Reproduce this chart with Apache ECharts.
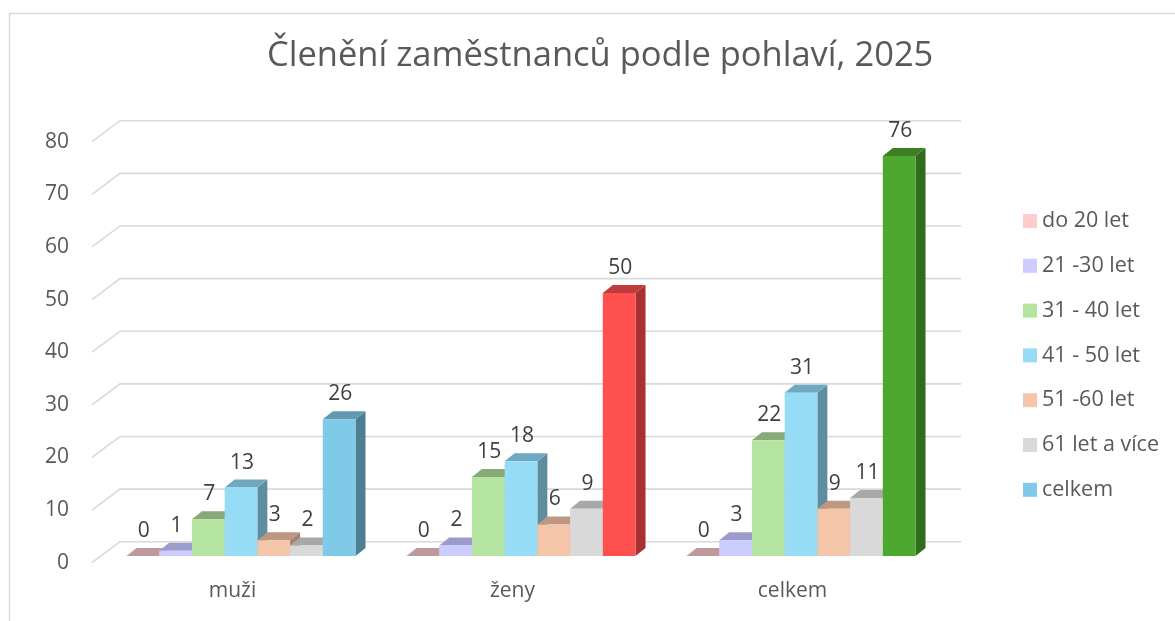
<!DOCTYPE html>
<html>
<head>
<meta charset="utf-8">
<script src="https://cdn.jsdelivr.net/npm/echarts@6/dist/echarts.min.js"></script>
<style>html,body{margin:0;padding:0;background:#fff}#c{width:1175px;height:621px}</style>
</head>
<body>
<div id="c"></div>
<script>
const categories = ['muži', 'ženy', 'celkem'];
const seriesNames = ['do 20 let', '21 -30 let', '31 - 40 let', '41 - 50 let', '51 -60 let', '61 let a více', 'celkem'];
const do20 = [0, 0, 0];
const r21_30 = [1, 2, 3];
const r31_40 = [7, 15, 22];
const r41_50 = [13, 18, 31];
const r51_60 = [3, 6, 9];
const r61 = [2, 9, 11];
const celkem = [26, 50, 76];
const yTicks = [0, 10, 20, 30, 40, 50, 60, 70, 80];

const seriesValues = [do20, r21_30, r31_40, r41_50, r51_60, r61, celkem];
const seriesColors = ['#FFCCCC', '#CCCCFF', '#B5E4A0', '#97DCF7', '#F5C5A9', '#D9D9D9', '#7FCAE8'];
const celkemColors = ['#7FCAE8', '#FF5050', '#4EA72E'];
const topColors = {
  '#FFCCCC': '#C09A9A', '#CCCCFF': '#9C9CCC', '#B5E4A0': '#88AA78', '#97DCF7': '#6FA8C0',
  '#F5C5A9': '#BE9784', '#D9D9D9': '#A8A8A8', '#7FCAE8': '#6299AF', '#FF5050': '#C03C3C', '#4EA72E': '#3B7F22'
};
const sideColors = {
  '#FFCCCC': '#A88585', '#CCCCFF': '#8585B0', '#B5E4A0': '#779668', '#97DCF7': '#5E8DA0',
  '#F5C5A9': '#A38272', '#D9D9D9': '#909090', '#7FCAE8': '#4F7E92', '#FF5050': '#A83232', '#4EA72E': '#316B1D'
};

const NB = 7, DX = 10, DY = -8, BAR_DY = -6.7;
const FONT = '"Open Sans"';

function barRender(si) {
  return function (params, api) {
    const ci = api.value(0), v = api.value(1);
    const base = api.coord([ci, 0]);
    const topP = api.coord([ci, v]);
    const bandW = api.size([1, 0])[0];
    const bw = bandW * 0.818 / NB;
    const x0 = base[0] - bw * NB / 2 + si * bw;
    const yb = base[1] + BAR_DY;
    const yt = topP[1] + BAR_DY;
    const col = si === 6 ? celkemColors[ci] : seriesColors[si];
    const children = [
      { type: 'polygon', shape: { points: [[x0 + bw, yt], [x0 + bw + DX, yt + DY], [x0 + bw + DX, yb + DY], [x0 + bw, yb]] }, style: { fill: sideColors[col] } },
      { type: 'polygon', shape: { points: [[x0, yt], [x0 + bw, yt], [x0 + bw + DX, yt + DY], [x0 + DX, yt + DY]] }, style: { fill: topColors[col] } },
      { type: 'rect', shape: { x: x0, y: yt, width: bw, height: Math.max(0, yb - yt) }, style: { fill: col } },
      { type: 'text', x: x0 + bw / 2 + 1, y: yt - 25, style: { text: String(v), fill: '#404040', font: '21px ' + FONT, align: 'center', verticalAlign: 'middle' } }
    ];
    return { type: 'group', children: children };
  };
}

function gridRender(params, api) {
  const cs = params.coordSys;
  const y = api.coord([0, api.value(0)])[1];
  return {
    type: 'polyline',
    shape: { points: [[cs.x - 9, y], [cs.x + 19, y - 21], [cs.x + cs.width + 20, y - 21]] },
    style: { stroke: '#D9D9D9', lineWidth: 1.6, fill: null }
  };
}

const series = [{
  type: 'custom', name: 'grid', renderItem: gridRender, silent: true,
  data: yTicks.map(v => [v]), encode: { y: 0 }, z: 1
}];
seriesValues.forEach((arr, si) => {
  series.push({
    type: 'custom', name: seriesNames[si], renderItem: barRender(si),
    itemStyle: { color: seriesColors[si] },
    data: arr.map((v, i) => [i, v]), encode: { x: 0, y: 1 }, z: 2 + si
  });
});

const chart = echarts.init(document.getElementById('c'));
chart.setOption({
  animation: false,
  backgroundColor: '#fff',
  title: {
    text: 'Členění zaměstnanců podle pohlaví, 2025',
    left: 262, top: 34,
    textStyle: { fontFamily: 'Open Sans', fontSize: 34.5, fontWeight: 'normal', color: '#595959' }
  },
  legend: {
    orient: 'vertical', left: 1023, top: 210, padding: 0,
    itemWidth: 14, itemHeight: 14, itemGap: 22.8,
    icon: 'rect',
    data: seriesNames,
    textStyle: { fontFamily: 'Open Sans', fontSize: 21.5, color: '#595959', lineHeight: 22 }
  },
  grid: { left: 101, right: 234, top: 141.7, bottom: 58.3 },
  xAxis: {
    type: 'category', data: categories,
    axisLine: { show: false }, axisTick: { show: false },
    axisLabel: { fontFamily: 'Open Sans', fontSize: 21, color: '#595959', margin: 18, padding: [0, 17, 0, 0] }
  },
  yAxis: {
    type: 'value', min: 0, max: 80, interval: 10,
    axisLine: { show: false }, axisTick: { show: false }, splitLine: { show: false },
    axisLabel: { fontFamily: 'Open Sans', fontSize: 21, color: '#595959', margin: 32 }
  },
  graphic: [{
    type: 'polyline', silent: true,
    shape: { points: [[9.5, 621], [9.5, 13.5], [1175, 13.5]] },
    style: { stroke: '#D9D9D9', lineWidth: 1.5, fill: null }
  }],
  series: series
});
</script>
</body>
</html>
